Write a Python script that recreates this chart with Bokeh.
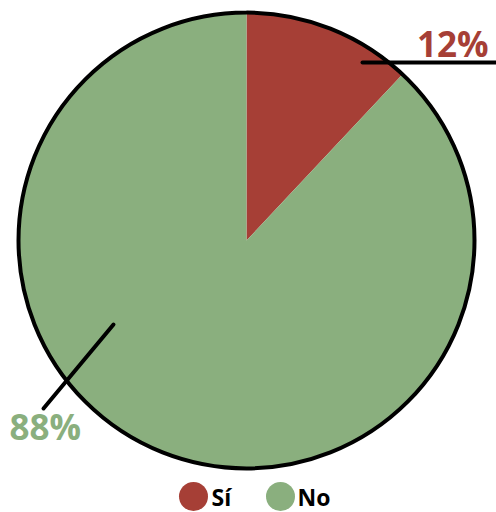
import math
from bokeh.plotting import figure
from bokeh.models import Range1d, ColumnDataSource
from bokeh.core.properties import value
from bokeh.embed import file_html
from bokeh.resources import INLINE

labels = ["Sí", "No"]
values = [12, 88]
colors = ["#A63F36", "#8AAF7E"]
pct_labels = ["12%", "88%"]

W, H = 496, 512
R = 228
p = figure(width=W, height=H, output_backend="svg", toolbar_location=None,
           x_range=Range1d(-246, 250), y_range=Range1d(-272, 240),
           min_border=0)
p.axis.visible = False
p.grid.visible = False
p.outline_line_color = None
p.background_fill_color = "white"

total = sum(values)
starts, ends = [], []
a = math.pi / 2
for v in values:
    starts.append(a)
    a -= v / total * 2 * math.pi
    ends.append(a)

src = ColumnDataSource(dict(start=starts, end=ends, color=colors, label=labels))
p.wedge(x=0, y=0, radius=R, start_angle="start", end_angle="end", direction="clock",
        fill_color="color", line_color=None, source=src)
p.circle(x=0, y=0, radius=R, fill_color=None, line_color="black", line_width=4)

# leader lines
p.line([116, 252], [178, 178], line_color="black", line_width=4, line_cap="round")
p.line([-133, -203], [-84, -168], line_color="black", line_width=4, line_cap="round")

p.text(x=[242], y=[197], text=[pct_labels[0]], text_color=colors[0],
       text_font=value("Open Sans"), text_font_style="bold", text_font_size="35px",
       text_align="right", text_baseline="alphabetic")
p.text(x=[-237], y=[-186], text=[pct_labels[1]], text_color=colors[1],
       text_font=value("Open Sans"), text_font_style="bold", text_font_size="35px",
       text_align="left", text_baseline="alphabetic")

# legend
p.scatter(x=[-53, 34], y=[-256, -256], size=29, marker="circle",
          fill_color=colors, line_color=None)
p.text(x=[-35, 51], y=[-256, -256], text=labels, text_color="black",
       text_font=value("Open Sans"), text_font_style="bold", text_font_size="23px",
       text_align="left", text_baseline="middle")

open("out.html", "w").write(file_html(p, INLINE))
